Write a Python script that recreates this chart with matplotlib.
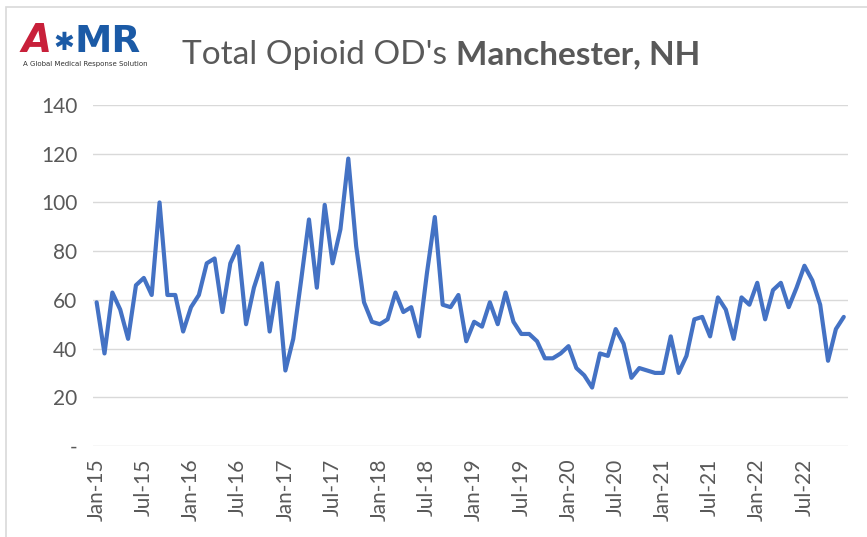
import matplotlib
matplotlib.use("Agg")
import matplotlib.pyplot as plt
from matplotlib.patches import Rectangle

plt.rcParams['font.family'] = ['Lato', 'DejaVu Sans']

# ---- data ----
years = [15, 16, 17, 18, 19, 20, 21, 22]
month_names = ['Jan', 'Feb', 'Mar', 'Apr', 'May', 'Jun',
               'Jul', 'Aug', 'Sep', 'Oct', 'Nov', 'Dec']
months = [f"{m}-{y}" for y in years for m in month_names]

overdoses = [59, 38, 63, 56, 44, 66, 69, 62, 100, 62, 62, 47,
             57, 62, 75, 77, 55, 75, 82, 50, 65, 75, 47, 67,
             31, 44, 68, 93, 65, 99, 75, 89, 118, 82, 59, 51,
             50, 52, 63, 55, 57, 45, 71, 94, 58, 57, 62, 43,
             51, 49, 59, 50, 63, 51, 46, 46, 43, 36, 36, 38,
             41, 32, 29, 24, 38, 37, 48, 42, 28, 32, 31, 30,
             30, 45, 30, 37, 52, 53, 45, 61, 56, 44, 61, 58,
             67, 52, 64, 67, 57, 65, 74, 68, 58, 35, 48, 53]

y_ticks = [0, 20, 40, 60, 80, 100, 120, 140]
y_tick_labels = ['-', '20', '40', '60', '80', '100', '120', '140']

title_plain = "Total Opioid OD's "
title_bold = "Manchester, NH"

# ---- figure ----
W, H = 867, 537
fig = plt.figure(figsize=(W / 100, H / 100), dpi=100)
fig.patch.set_facecolor('white')

# light border
fig.add_artist(Rectangle((6 / W, -0.01), 1.2, (H - 7) / H + 0.01,
                         transform=fig.transFigure, fill=False,
                         edgecolor='#D9D9D9', linewidth=1.2))

ax = fig.add_axes([92.7 / W, 1 - 446 / H, (847.7 - 92.7) / W, (446 - 105) / H])
x = list(range(len(months)))
ax.plot(x, overdoses, color='#4472C4', linewidth=3.0, solid_joinstyle='round',
        solid_capstyle='round', zorder=3)

ax.set_ylim(0, 140)
ax.set_xlim(-0.5, len(months) - 0.5)
ax.set_yticks(y_ticks)
ax.set_yticklabels(y_tick_labels)
tick_idx = list(range(0, len(months), 6))
ax.set_xticks(tick_idx)
ax.set_xticklabels([months[i] for i in tick_idx], rotation=90)
ax.tick_params(axis='both', length=0, colors='#595959', labelsize=15)
ax.tick_params(axis='x', pad=9)
ax.tick_params(axis='y', pad=11)
for s in ax.spines.values():
    s.set_visible(False)
ax.grid(axis='y', color='#D9D9D9', linewidth=1.0, zorder=0)
ax.set_axisbelow(True)

# ---- title ----
renderer = fig.canvas.get_renderer()
t1 = fig.text(182 / W, 1 - 64 / H, title_plain, fontsize=24, color='#595959',
              ha='left', va='baseline')
bb = t1.get_window_extent(renderer)
fig.text(bb.x1 / W, 1 - 64 / H, title_bold, fontsize=24, color='#595959',
         fontweight='bold', ha='left', va='baseline')

# ---- logo ----
la = fig.text(22 / W, 1 - 52 / H, 'A', fontsize=28, color='#C8203A',
              fontweight='black', fontstyle='italic', ha='left', va='baseline',
              family=['DejaVu Sans'])
bb = la.get_window_extent(renderer)
ls = fig.text(bb.x1 / W + 0.001, 1 - 50 / H, '\u2731', fontsize=18, color='#1B5AA6',
              ha='left', va='baseline', family=['DejaVu Sans'])
bb = ls.get_window_extent(renderer)
fig.text(bb.x1 / W + 0.001, 1 - 52 / H, 'MR', fontsize=27, color='#1B5AA6',
         fontweight='black', ha='left', va='baseline', family=['DejaVu Sans'])
fig.text(23 / W, 1 - 66 / H, 'A Global Medical Response Solution', fontsize=5.0,
         color='#333333', ha='left', va='baseline', family=['Liberation Sans Narrow', 'DejaVu Sans'])

fig.savefig('out.png', dpi=100, facecolor='white')
